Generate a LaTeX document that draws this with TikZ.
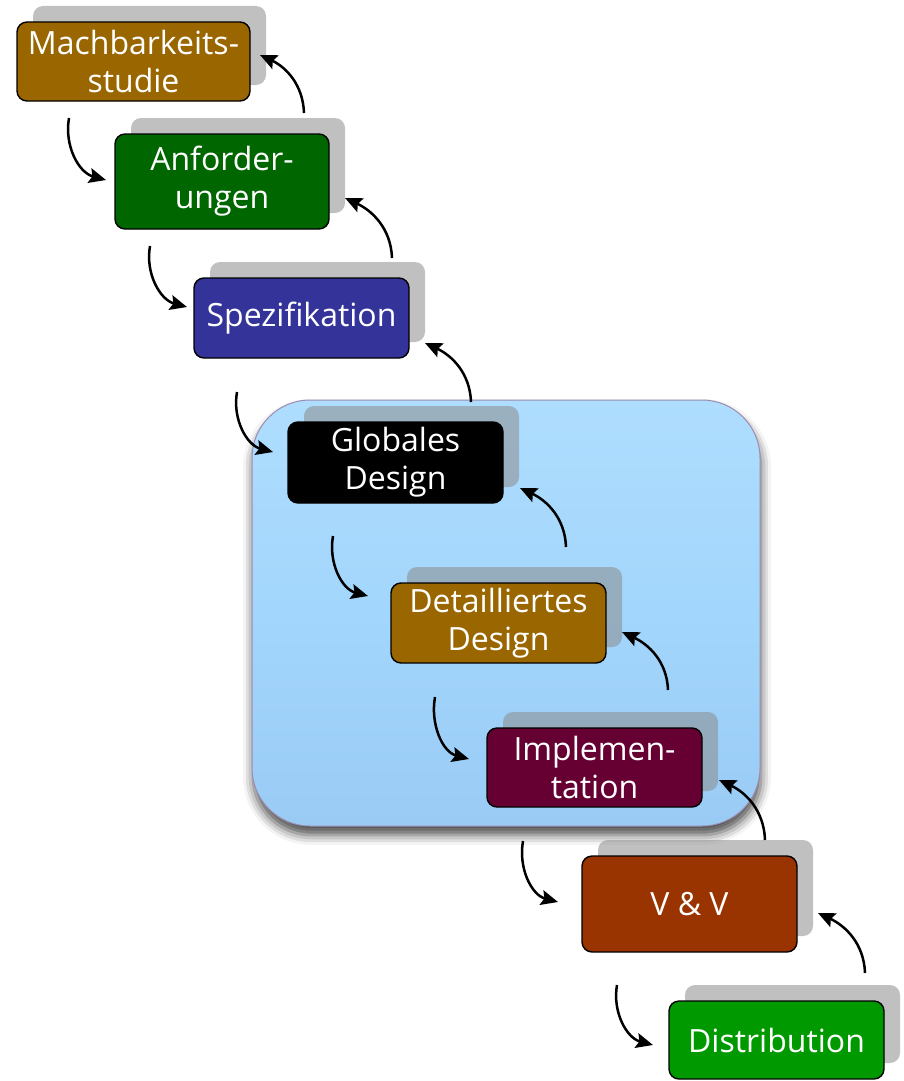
\documentclass[tikz,border=0pt]{standalone}
\usepackage{fontspec}
\setmainfont{Open Sans}
\usetikzlibrary{arrows.meta,shadows,shadows.blur}

\definecolor{ochre}{HTML}{996600}
\definecolor{forest}{HTML}{006600}
\definecolor{indigo}{HTML}{333399}
\definecolor{wine}{HTML}{660033}
\definecolor{rust}{HTML}{993300}
\definecolor{leaf}{HTML}{009900}
\definecolor{backgray}{RGB}{139,139,139}
\definecolor{sky}{HTML}{A3D6FC}
\definecolor{skytop}{HTML}{AEDDFE}
\definecolor{skybottom}{HTML}{99CBF5}
\definecolor{skyrim}{HTML}{9C8CB0}

\newcommand{\phasefont}{\fontsize{32}{38}\selectfont}

\tikzset{
  phase/.style={draw=black, line width=1.4pt, rounded corners=10pt,
    text=white, align=center, inner sep=2pt, font=\phasefont,
    minimum width=215pt, minimum height=80pt,
    drop shadow={shadow xshift=16pt, shadow yshift=16pt,
      fill=backgray, opacity=0.54}},
  coreframe/.style={draw=skyrim, line width=1pt, rounded corners=58pt,
    top color=skytop, bottom color=skybottom, middle color=sky,
    minimum width=508pt, minimum height=426pt,
    blur shadow={shadow xshift=1pt, shadow yshift=-9pt,
      shadow blur radius=10pt, shadow opacity=70}},
  flow/.style={line width=2.5pt},
}

\begin{document}
\begin{tikzpicture}[x=1pt,y=1pt,>={Stealth[length=17pt,width=15pt,inset=3pt]}]
\useasboundingbox (0,0) rectangle (903,-1081);

\node[coreframe] (core) at (506,-613) {};

\node[phase, fill=ochre, minimum width=233pt, minimum height=79pt] (machbarkeit) at (133.5,-61.5) {Machbarkeits-\\studie};
\node[phase, fill=forest, minimum width=214pt, minimum height=95pt] (anforderung) at (222,-181.5) {Anforder-\\ungen};
\node[phase, fill=indigo] (spezifikation) at (301.5,-318) {Spezifikation};
\node[phase, fill=black, minimum height=81pt] (global) at (395.5,-462.5) {Globales\\Design};
\node[phase, fill=ochre] (detail) at (498.5,-623) {Detailliertes\\Design};
\node[phase, fill=wine, minimum height=79pt] (implement) at (594.5,-767.5) {Implemen-\\tation};
\node[phase, fill=rust, minimum height=96pt] (vv) at (689.5,-904) {V \& V};
\node[phase, fill=leaf, minimum height=78pt] (distribution) at (776.5,-1040) {Distribution};

% steps down
\coordinate (d1) at (69,-118);   \coordinate (d1e) at (106,-180);
\coordinate (d2) at (150,-246);  \coordinate (d2e) at (187,-307);
\coordinate (d3) at (237,-392);  \coordinate (d3e) at (273,-452);
\coordinate (d4) at (333,-536);  \coordinate (d4e) at (368,-596);
\coordinate (d5) at (435,-697);  \coordinate (d5e) at (469,-759);
\coordinate (d6) at (523,-841);  \coordinate (d6e) at (558,-902);
\coordinate (d7) at (617,-985);  \coordinate (d7e) at (653,-1045);

% steps back up
\coordinate (u1) at (304,-113);  \coordinate (u1e) at (260,-55);
\coordinate (u2) at (392,-258);  \coordinate (u2e) at (345,-198);
\coordinate (u3) at (471,-402);  \coordinate (u3e) at (425,-343);
\coordinate (u4) at (566,-547);  \coordinate (u4e) at (520,-488);
\coordinate (u5) at (668,-690);  \coordinate (u5e) at (622,-632);
\coordinate (u6) at (765,-840);  \coordinate (u6e) at (719,-780);
\coordinate (u7) at (865,-973);  \coordinate (u7e) at (818,-913);

\foreach \i in {1,...,7} {
  \path[draw,flow,->] (d\i) to[out=-100,in=165] (d\i e);
  \path[draw,flow,->] (u\i) to[out=92,in=-25] (u\i e);
}
\end{tikzpicture}
\end{document}
